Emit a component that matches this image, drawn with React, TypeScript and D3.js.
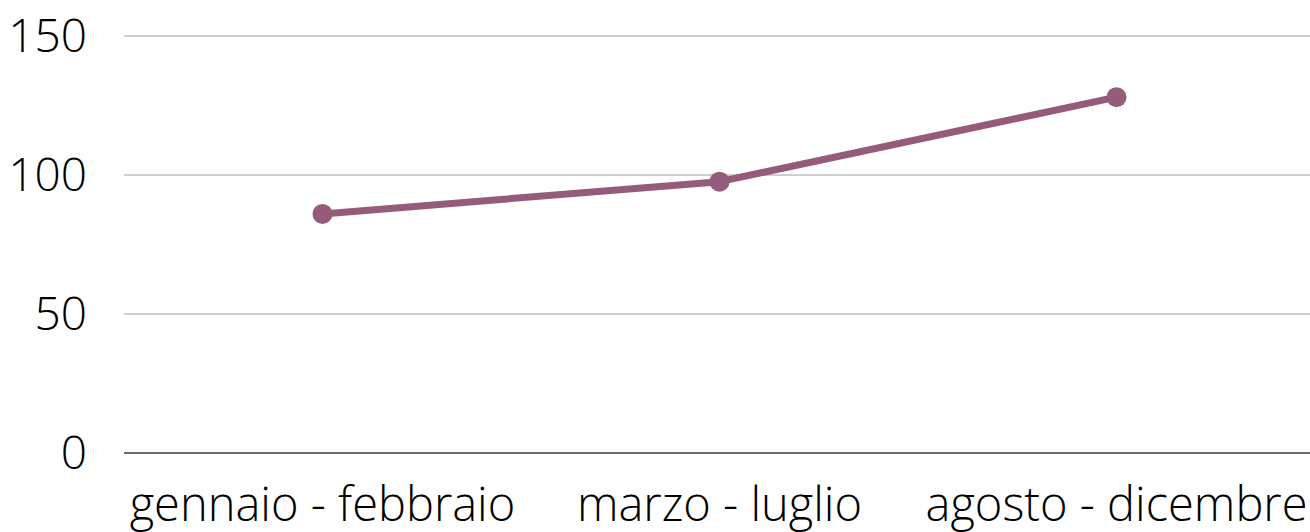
import React, { useEffect, useRef } from 'react'
import * as d3 from 'd3'

const categories = ['gennaio - febbraio', 'marzo - luglio', 'agosto - dicembre']
const values = [86, 97.6, 128]
const yTicks = [0, 50, 100, 150]

export default function App() {
  const svgRef = useRef<SVGSVGElement | null>(null)

  useEffect(() => {
    document.body.style.margin = '0'
    const width = 1310
    const svg = d3.select(svgRef.current)
    svg.selectAll('*').remove()

    const left = 124
    const x = d3.scalePoint<string>().domain(categories).range([left, 1315]).padding(0.5)
    const y = d3.scaleLinear().domain([0, 150]).range([453, 36])

    const font = "'Open Sans', sans-serif"

    // gridlines
    svg
      .append('g')
      .selectAll('line')
      .data(yTicks.filter((t) => t > 0))
      .enter()
      .append('line')
      .attr('x1', left)
      .attr('x2', width)
      .attr('y1', (d) => y(d))
      .attr('y2', (d) => y(d))
      .attr('stroke', '#bfbfbf')
      .attr('stroke-width', 1.5)

    // baseline
    svg
      .append('line')
      .attr('x1', left)
      .attr('x2', width)
      .attr('y1', y(0))
      .attr('y2', y(0))
      .attr('stroke', '#6b6b6b')
      .attr('stroke-width', 2)

    // y labels
    svg
      .append('g')
      .selectAll('text')
      .data(yTicks)
      .enter()
      .append('text')
      .attr('x', 87)
      .attr('y', (d) => y(d))
      .attr('dy', '0.35em')
      .attr('text-anchor', 'end')
      .attr('font-family', font)
      .attr('font-weight', 300)
      .attr('font-size', 46)
      .attr('fill', '#000')
      .text((d) => d)

    // x labels (cut by the bottom edge, as in the original)
    svg
      .append('g')
      .selectAll('text')
      .data(categories)
      .enter()
      .append('text')
      .attr('x', (d) => x(d) as number)
      .attr('y', 521)
      .attr('text-anchor', 'middle')
      .attr('font-family', font)
      .attr('font-weight', 300)
      .attr('font-size', 47)
      .attr('fill', '#000')
      .text((d) => d)

    const color = '#955b7b'
    const line = d3
      .line<number>()
      .x((d, i) => x(categories[i]) as number)
      .y((d) => y(d))

    svg
      .append('path')
      .datum(values)
      .attr('d', line)
      .attr('fill', 'none')
      .attr('stroke', color)
      .attr('stroke-width', 7)
      .attr('stroke-linejoin', 'round')

    svg
      .append('g')
      .selectAll('circle')
      .data(values)
      .enter()
      .append('circle')
      .attr('cx', (d, i) => x(categories[i]) as number)
      .attr('cy', (d) => y(d))
      .attr('r', 10)
      .attr('fill', color)
  }, [])

  return <svg ref={svgRef} width={1310} height={532} style={{ display: 'block' }}></svg>
}
